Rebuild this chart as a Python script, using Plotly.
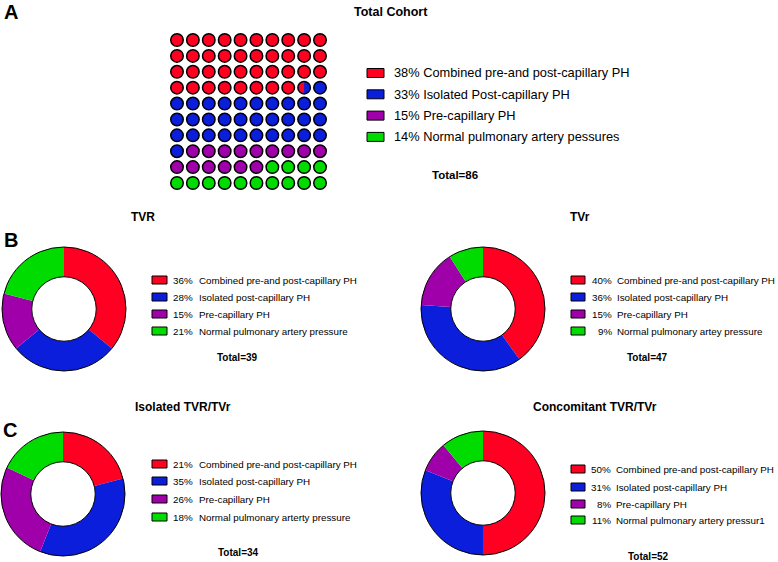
import numpy as np
import plotly.graph_objects as go

W, H = 778, 562

# ---- data ----
colors = ["#FF0022", "#0A1EDC", "#A000AA", "#00DC00"]

cohort_counts = [33, 28, 13, 12]
cohort_labels = [
    "38% Combined pre-and post-capillary PH",
    "33% Isolated Post-capillary PH",
    "15% Pre-capillary PH",
    "14% Normal pulmonary artery pessures",
]

tvr_pct = [36, 28, 15, 21]
tvr_labels = ["Combined pre-and post-capillary PH", "Isolated post-capillary PH",
              "Pre-capillary PH", "Normal pulmonary artery pressure"]

tvr2_pct = [40, 36, 15, 9]
tvr2_labels = ["Combined pre-and post-capillary PH", "Isolated post-capillary PH",
               "Pre-capillary PH", "Normal pulmonary artey pressure"]

iso_pct = [21, 35, 26, 18]
iso_labels = ["Combined pre-and post-capillary PH", "Isolated post-capillary PH",
              "Pre-capillary PH", "Normal pulmonary arterty pressure"]

conc_pct = [50, 31, 8, 11]
conc_labels = ["Combined pre-and post-capillary PH", "Isolated post-capillary PH",
               "Pre-capillary PH", "Normal pulmonary artery pressur1"]

FONT = "Arial, Liberation Sans, sans-serif"


def px(x):
    return x / W


def py(y):
    return 1 - y / H


fig = go.Figure()
annotations = []
shapes = []


def text(x, y, s, size, bold=False, xanchor="center"):
    # annotations carry ~2px of padding; compensate so x is the ink edge
    if xanchor == "left":
        x -= 2
    elif xanchor == "right":
        x += 2
    annotations.append(dict(
        x=px(x), y=py(y), xref="paper", yref="paper", showarrow=False,
        text=f"<b>{s}</b>" if bold else s, xanchor=xanchor, yanchor="middle",
        font=dict(family=FONT, size=size, color="black"),
    ))


# ---- panel A: waffle ----
total = sum(cohort_counts)
cum = np.concatenate([[0], np.cumsum(cohort_counts)]) * 100 / total
xs, ys, cs, split = [], [], [], []
for i in range(100):
    cover = [max(0, min(i + 1, cum[k + 1]) - max(i, cum[k])) for k in range(4)]
    k = int(np.argmax(cover))
    col, row = i % 10, i // 10
    xs.append(col)
    ys.append(row)
    if max(cover) < 0.75:
        # split cell: first category on the left, second on the right
        ks = sorted(sorted(range(4), key=lambda j: -cover[j])[:2])
        cs.append(colors[ks[1]])
        split.append((col, row, colors[ks[0]]))
    else:
        cs.append(colors[k])

fig.add_trace(go.Scatter(
    x=xs, y=ys, mode="markers", hoverinfo="skip", showlegend=False,
    marker=dict(size=12.5, color=cs, line=dict(color="black", width=1.5)),
    xaxis="x", yaxis="y",
))
step_px = 15.89
r = 5.4 / step_px
for col, row, c in split:
    t = np.linspace(np.pi / 2, 3 * np.pi / 2, 30)
    fig.add_trace(go.Scatter(
        x=col + r * np.cos(t), y=row - r * np.sin(t), mode="lines", fill="toself",
        fillcolor=c, line=dict(width=0), hoverinfo="skip", showlegend=False,
        xaxis="x", yaxis="y",
    ))

for i, lab in enumerate(cohort_labels):
    yc = 73 + i * 21.3
    shapes.append(dict(type="rect", xref="paper", yref="paper",
                       x0=px(367), x1=px(384), y0=py(yc - 4.5), y1=py(yc + 4.5),
                       fillcolor=colors[i], line=dict(color="black", width=1)))
    text(394, yc, lab, 12.8, xanchor="left")

text(11, 12, "A", 20, bold=True)
text(391, 12, "Total Cohort", 12.5, bold=True)
text(455, 175, f"Total={total}", 11.5, bold=True)

# ---- donuts ----
panels = [
    dict(vals=tvr_pct, labs=tvr_labels, total=39, title="TVR", tpos=(143, 217),
         cx=64, cy=309, sq=(152, 167), pr=193, lx=199, rows=[280, 297, 314, 331], tot=(237, 358)),
    dict(vals=tvr2_pct, labs=tvr2_labels, total=47, title="TVr", tpos=(580, 217),
         cx=483, cy=309, sq=(571, 585), pr=612, lx=617, rows=[280, 297, 314, 331], tot=(647, 358)),
    dict(vals=iso_pct, labs=iso_labels, total=34, title="Isolated TVR/TVr", tpos=(183, 407),
         cx=63, cy=494, sq=(152, 167), pr=193, lx=199, rows=[464, 481, 499, 517], tot=(238, 552)),
    dict(vals=conc_pct, labs=conc_labels, total=52, title="Concomitant TVR/TVr", tpos=(595, 407),
         cx=483, cy=493, sq=(571, 585), pr=611, lx=616, rows=[469, 487, 504, 520], tot=(648, 556)),
]
R = 62
for p in panels:
    dom = dict(x=[px(p["cx"] - R), px(p["cx"] + R)], y=[py(p["cy"] + R), py(p["cy"] - R)])
    fig.add_trace(go.Pie(
        values=p["vals"], labels=p["labs"], sort=False, direction="clockwise", rotation=0,
        hole=0.52, domain=dom, textinfo="none", hoverinfo="label+percent", showlegend=False,
        marker=dict(colors=colors, line=dict(width=0)),
    ))
    fig.add_trace(go.Pie(
        values=[1], labels=["outline"], hole=0.52, domain=dom, textinfo="none",
        hoverinfo="skip", showlegend=False,
        marker=dict(colors=["rgba(0,0,0,0)"], line=dict(color="black", width=1)),
    ))
    for i, (v, lab) in enumerate(zip(p["vals"], p["labs"])):
        yc = p["rows"][i]
        shapes.append(dict(type="rect", xref="paper", yref="paper",
                           x0=px(p["sq"][0]), x1=px(p["sq"][1]), y0=py(yc - 4), y1=py(yc + 4),
                           fillcolor=colors[i], line=dict(color="black", width=1)))
        text(p["pr"], yc, f"{v}%", 9.8, xanchor="right")
        text(p["lx"], yc, lab, 9.8, xanchor="left")
    text(*p["tpos"], p["title"], 12, bold=True)
    text(*p["tot"], f"Total={p['total']}", 10, bold=True)

text(11, 240, "B", 20, bold=True)
text(10, 430, "C", 20, bold=True)

fig.update_layout(
    width=W, height=H, margin=dict(l=0, r=0, t=0, b=0),
    paper_bgcolor="white", plot_bgcolor="white",
    xaxis=dict(domain=[px(177 - step_px / 2), px(320 + step_px / 2)], range=[-0.5, 9.5],
               visible=False, fixedrange=True),
    yaxis=dict(domain=[py(183 + step_px / 2), py(40 - step_px / 2)], range=[9.5, -0.5],
               visible=False, fixedrange=True),
    annotations=annotations, shapes=shapes, showlegend=False,
)

fig.write_html("out.html", config={"displayModeBar": False},
               post_script="document.body.style.margin='0';")
